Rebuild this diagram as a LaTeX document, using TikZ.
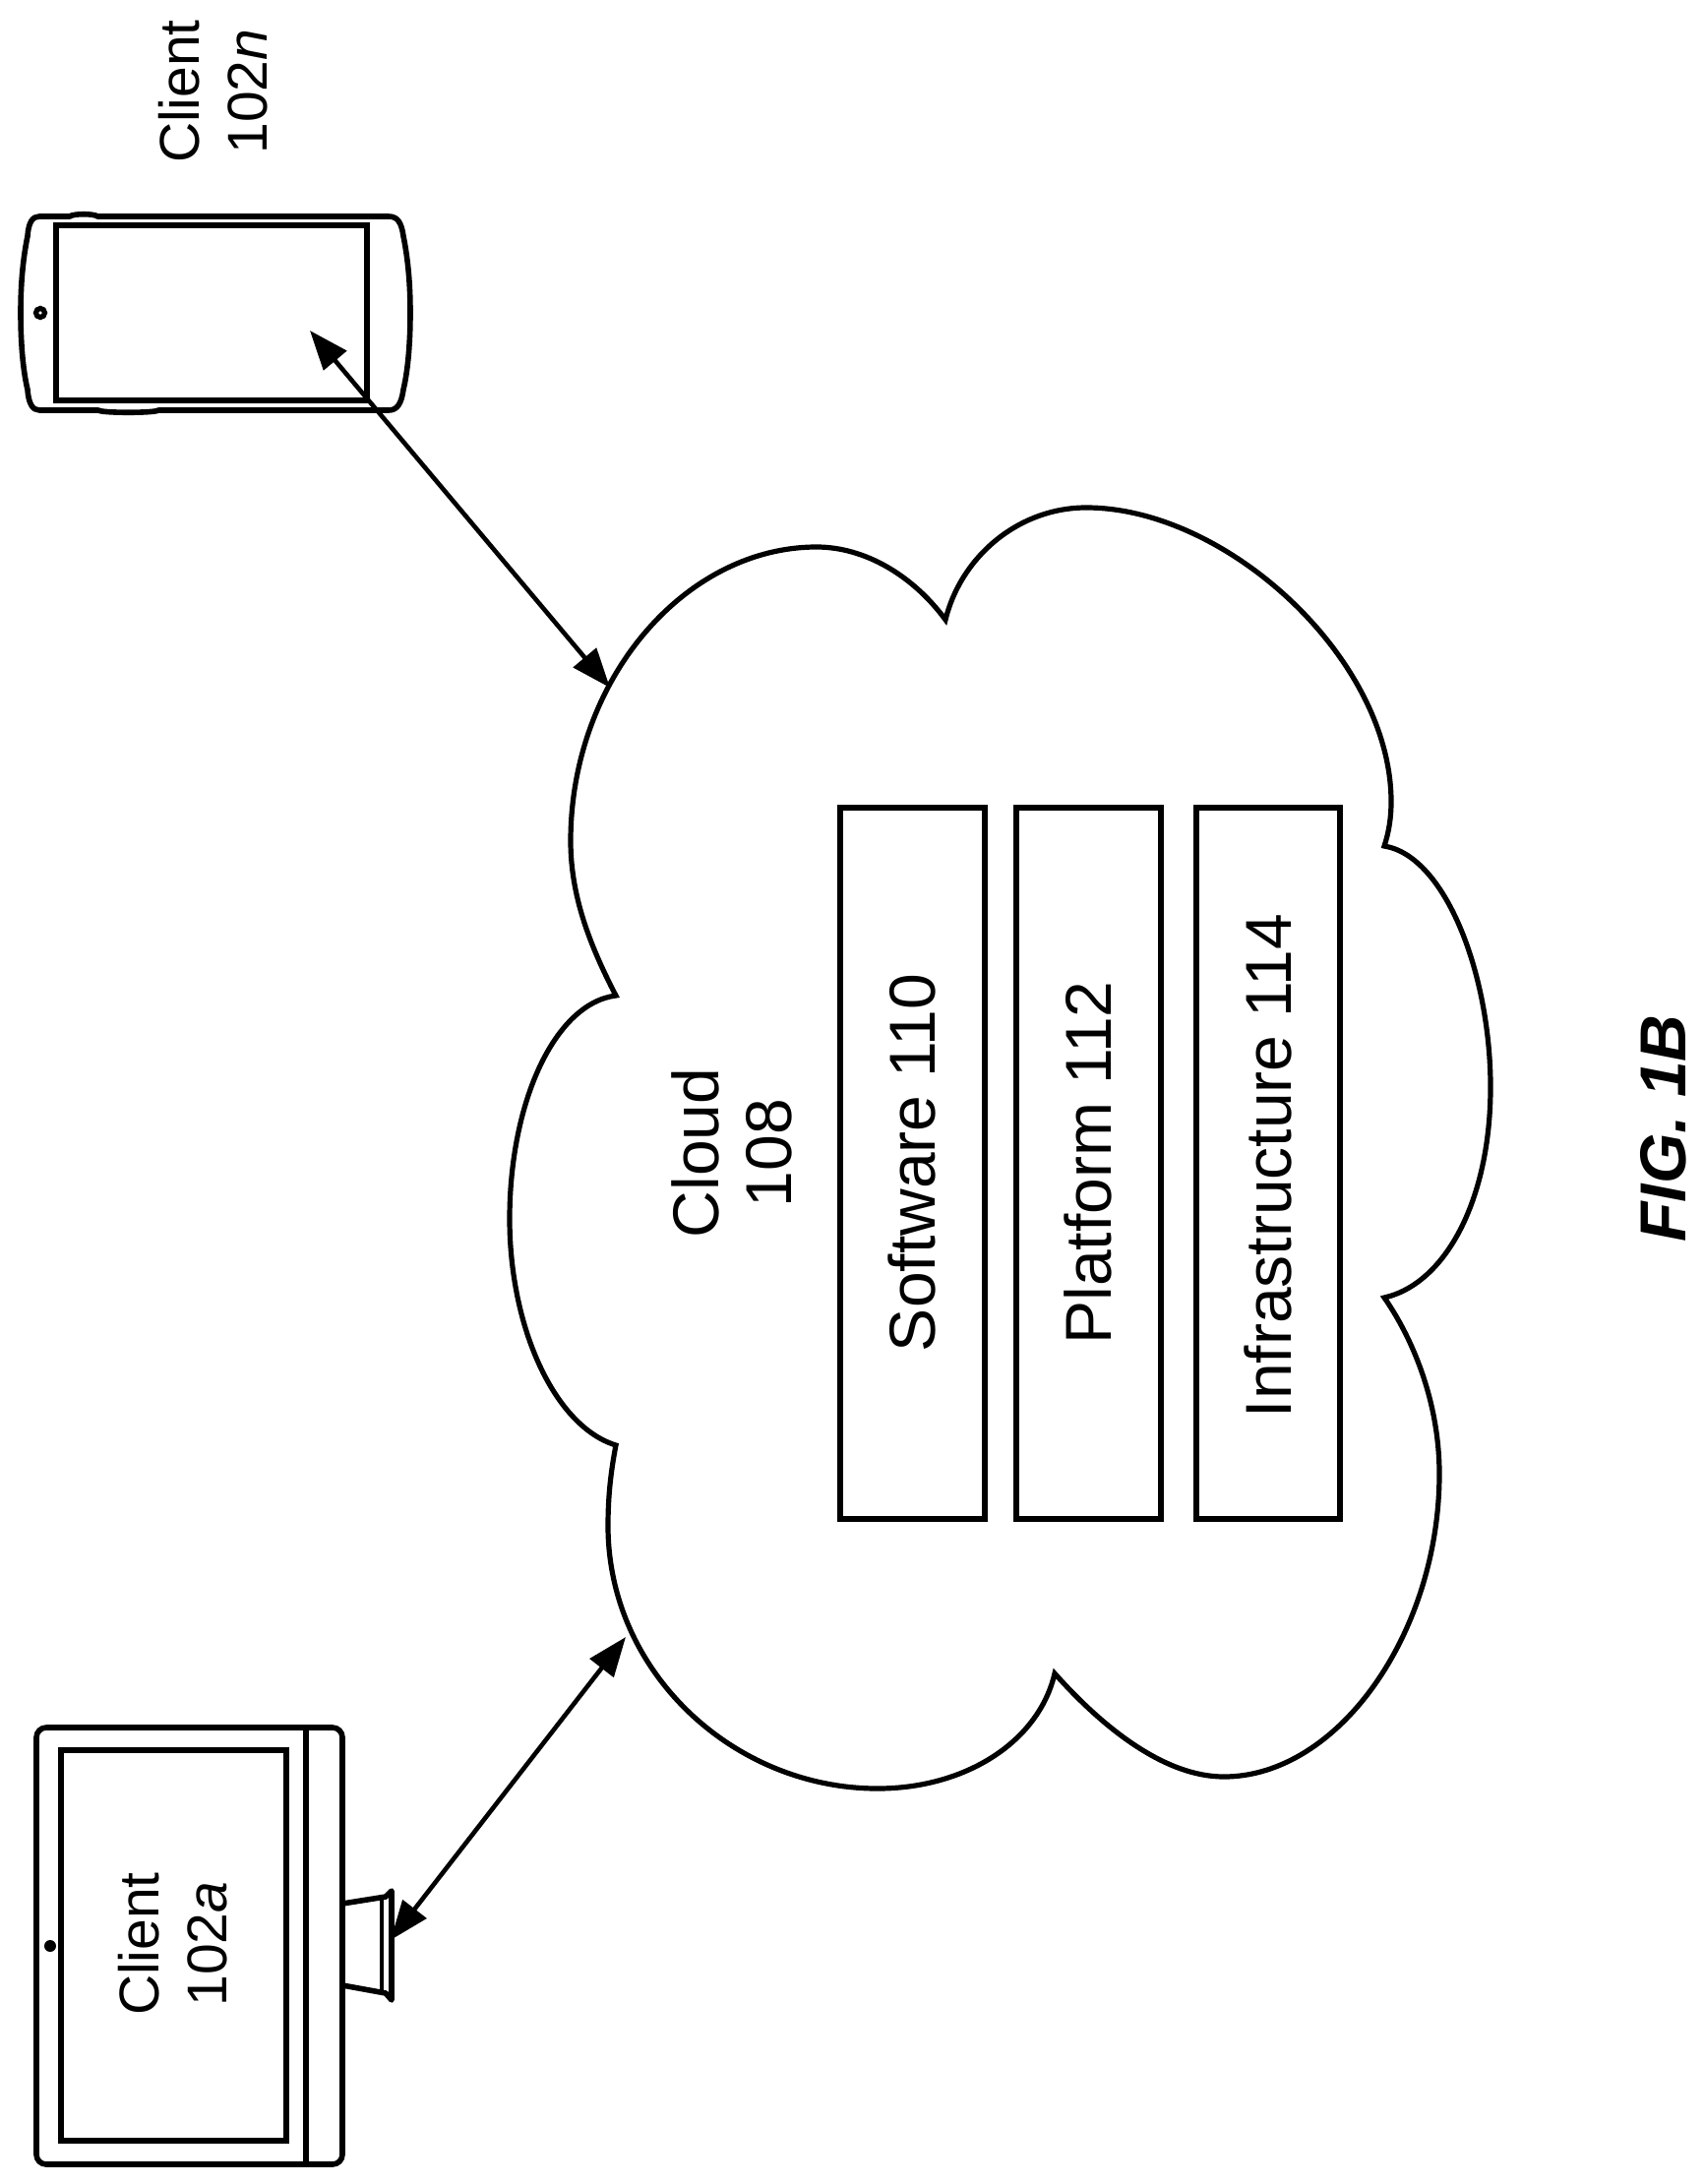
\documentclass[tikz,border=0pt]{standalone}
\usepackage{fontspec}
\setmainfont{Liberation Sans}
\usetikzlibrary{arrows.meta}
\tikzset{
	boxline/.style={line width=2.8pt},
	cloudline/.style={line width=2.6pt},
	biarrow/.style={line width=2.3pt,{Triangle[length=20pt,width=15pt]}-{Triangle[length=20pt,width=15pt]}},
	bigtext/.style={rotate=90,inner sep=0pt,align=center,font=\fontsize{33}{37}\selectfont},
	clienttext/.style={rotate=90,inner sep=0pt,align=center,font=\fontsize{28.5}{34.5}\selectfont}
}
\begin{document}
\begin{tikzpicture}[x=0.5pt,y=0.5pt,yscale=-1]
	\useasboundingbox (0,0) rectangle (1732,2220);
	
	%Shape: Cloud
	\draw [cloudline] (626,1012) .. controls (599,960) and (580,910) .. (580,855) .. controls (580,690) and (697,556) .. (830,556) .. controls (879,556) and (928,585) .. (961,630)
		.. controls (977,565) and (1036,516) .. (1104,516) .. controls (1247,516) and (1414,670) .. (1414,815) .. controls (1414,830) and (1412,845) .. (1407,860)
		.. controls (1469,870) and (1515,990) .. (1515,1105) .. controls (1515,1220) and (1469,1305) .. (1407,1319)
		.. controls (1439,1365) and (1463,1430) .. (1463,1498) .. controls (1463,1660) and (1360,1806) .. (1244,1806) .. controls (1183,1806) and (1120,1755) .. (1072,1701)
		.. controls (1056,1770) and (982,1818) .. (892,1818) .. controls (746,1818) and (618,1700) .. (618,1551) .. controls (618,1520) and (621,1495) .. (626,1469)
		.. controls (564,1450) and (518,1350) .. (518,1239) .. controls (518,1120) and (564,1020) .. (626,1012) -- cycle;
	
	%Shape: Rectangle
	\draw [boxline] (854,821) rectangle (1001,1544);
	%Shape: Rectangle
	\draw [boxline] (1033,821) rectangle (1180,1544);
	%Shape: Rectangle
	\draw [boxline] (1216,821) rectangle (1362,1544);
	
	%Shape: Phone
	\draw [boxline,line join=round] (40,220) -- (71,220) .. controls (74,217) and (96,217) .. (99,220) -- (395,220) .. controls (404,220) and (408,226) .. (410,240) .. controls (415,265) and (417,290) .. (417,318) .. controls (417,346) and (415,375) .. (410,396) .. controls (408,410) and (404,417) .. (395,417) -- (161,417) .. controls (158,420) and (103,420) .. (100,417) -- (40,417) .. controls (33,417) and (29,410) .. (28,396) .. controls (23,375) and (21,346) .. (21,318) .. controls (21,290) and (23,265) .. (28,240) .. controls (29,226) and (33,220) .. (40,220) -- cycle;
	\draw [boxline] (57,229) rectangle (373,407);
	\draw [line width=2.6pt] (41,318) circle (4.5);
	
	%Shape: Monitor
	\draw [boxline,rounded corners=5pt] (37,1756) rectangle (348,2200);
	\draw [boxline] (311,1756) -- (311,2200);
	\draw [boxline] (62,1779) rectangle (291,2176);
	\fill (51,1978) circle (6);
	\draw [boxline,line join=round] (348,1935) -- (392,1928) -- (398,1922) -- (398,2033) -- (392,2026) -- (348,2018);
	\draw [line width=2.2pt] (388,1928) -- (388,2026);
	
	%Arrow end points
	\coordinate (phonetip) at (315,336);
	\coordinate (cloudtipn) at (620,699);
	\coordinate (monitortip) at (397,1972);
	\coordinate (cloudtipa) at (636,1664);
	%Straight Lines
	\draw [biarrow] (phonetip) -- (cloudtipn);
	%Straight Lines
	\draw [biarrow] (monitortip) -- (cloudtipa);
	
	% Text Node
	\draw (217,93) node [clienttext] (clientn) {Client\\102\textit{n}};
	% Text Node
	\draw (176,1976) node [clienttext] (clienta) {Client\\102\textit{a}};
	% Text Node
	\draw (744,1172) node [bigtext] (cloud) {Cloud\\108};
	% Text Node
	\draw (927,1182) node [bigtext] (software) {Software 110};
	% Text Node
	\draw (1106,1182) node [bigtext] (platform) {Platform 112};
	% Text Node
	\draw (1289,1185) node [bigtext] (infrastructure) {Infrastructure 114};
	% Text Node
	\draw (1691,1147) node [bigtext] (fig) {\textbf{\textit{FIG. 1B}}};
\end{tikzpicture}
\end{document}
